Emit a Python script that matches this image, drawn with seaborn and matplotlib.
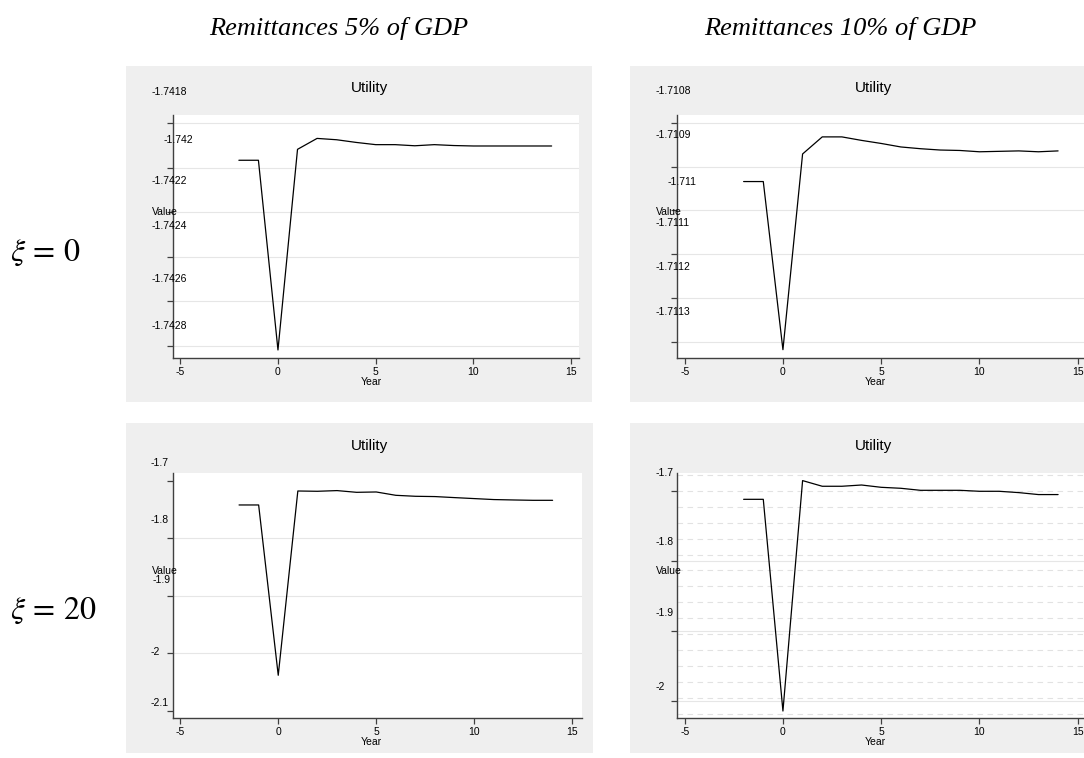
import matplotlib
matplotlib.use("Agg")
import matplotlib.pyplot as plt
from matplotlib.patches import Rectangle
from matplotlib.transforms import ScaledTranslation
import numpy as np
import pandas as pd
import seaborn as sns

# 数据：年份与四个情形下的效用值
years = list(range(-2, 15))
utility_r5_xi0 = [-1.741967, -1.741967, -1.742818, -1.741918, -1.741869, -1.741875,
                  -1.741887, -1.741897, -1.741897, -1.741902, -1.741897, -1.741901,
                  -1.741903, -1.741903, -1.741903, -1.741903, -1.741903]
utility_r10_xi0 = [-1.710934, -1.710934, -1.711318, -1.710871, -1.710832, -1.710832,
                   -1.710840, -1.710847, -1.710855, -1.710859, -1.710862, -1.710863,
                   -1.710866, -1.710865, -1.710864, -1.710866, -1.710864]
utility_r5_xi20 = [-1.7417, -1.7417, -2.0379, -1.7174, -1.7179, -1.7167, -1.7197,
                   -1.7191, -1.7249, -1.7266, -1.7271, -1.7289, -1.7306, -1.7323,
                   -1.7330, -1.7336, -1.7336]
utility_r10_xi20 = [-1.7115, -1.7115, -2.0148, -1.6847, -1.6928, -1.6928, -1.6910,
                    -1.6943, -1.6957, -1.6986, -1.6986, -1.6986, -1.7000, -1.7000,
                    -1.7019, -1.7047, -1.7047]

col_titles = ['Remittances 5% of GDP', 'Remittances 10% of GDP']
row_titles = [r'$\xi\,=\,0$', r'$\xi\,=\,20$']
xticks = [-5, 0, 5, 10, 15]
yticks_r5_xi0 = [-1.7418, -1.7420, -1.7422, -1.7424, -1.7426, -1.7428]
ylabels_r5_xi0 = ['-1.7418', '-1.742', '-1.7422', '-1.7424', '-1.7426', '-1.7428']
yticks_r10_xi0 = [-1.7108, -1.7109, -1.7110, -1.7111, -1.7112, -1.7113]
ylabels_r10_xi0 = ['-1.7108', '-1.7109', '-1.711', '-1.7111', '-1.7112', '-1.7113']
yticks_r5_xi20 = [-1.7, -1.8, -1.9, -2.0, -2.1]
ylabels_r5_xi20 = ['-1.7', '-1.8', '-1.9', '-2', '-2.1']
yticks_r10_xi20 = [-1.7, -1.8, -1.9, -2.0]
ylabels_r10_xi20 = ['-1.7', '-1.8', '-1.9', '-2']

sns.set_style('white')
plt.rcParams['font.family'] = ['Liberation Sans', 'DejaVu Sans']
plt.rcParams['mathtext.fontset'] = 'stix'
plt.rcParams['text.color'] = 'black'
plt.rcParams['xtick.labelcolor'] = 'black'

W, H = 1084, 758
fig = plt.figure(figsize=(W / 100, H / 100), dpi=100, facecolor='white')


def px_rect(x0, y0, x1, y1):
    # 像素框 -> figure 坐标
    return [x0 / W, 1 - y1 / H, (x1 - x0) / W, (y1 - y0) / H]


def shift(dx, dy):
    # 像素偏移（dy 向下为正）
    return ScaledTranslation(dx / 100, -dy / 100, fig.dpi_scale_trans)


panels = [
    dict(values=utility_r5_xi0, ticks=yticks_r5_xi0, labels=ylabels_r5_xi0,
         box=(126, 66, 592, 402), axes=(173, 115, 579, 358),
         xlim=(-5.37, 15.40), ylim=(-1.742854, -1.741764),
         ldy=[-31, -28, -31, -31, -22, -20], ldx=[-21, -9, -21, -21, -21, -21],
         grid=[0, 1, 2, 3, 4, 5], pattern=False),
    dict(values=utility_r10_xi0, ticks=yticks_r10_xi0, labels=ylabels_r10_xi0,
         box=(630, 66, 1084, 402), axes=(677, 115, 1086, 358),
         xlim=(-5.39, 15.42), ylim=(-1.711337, -1.710782),
         ldy=[-32, -32, -28, -31, -31, -30], ldx=[-21, -21, -9, -21, -21, -21],
         grid=[0, 1, 2, 3, 4, 5], pattern=False),
    dict(values=utility_r5_xi20, ticks=yticks_r5_xi20, labels=ylabels_r5_xi20,
         box=(126, 423, 593, 753), axes=(173, 473, 582, 718),
         xlim=(-5.37, 15.50), ylim=(-2.1122, -1.6861),
         ldy=[-18, -18, -16, -1, -8], ldx=[-22, -22, -20, -22, -22],
         grid=[1, 2, 3], pattern=False),
    dict(values=utility_r10_xi20, ticks=yticks_r10_xi20, labels=ylabels_r10_xi20,
         box=(630, 423, 1084, 753), axes=(677, 473, 1086, 718),
         xlim=(-5.39, 15.42), ylim=(-2.0248, -1.6738),
         ldy=[-18, -19, -18, -14], ldx=[-21, -21, -21, -21],
         grid=[1, 2, 3], pattern=True),
]

fs = 7.5
axis_col = '#404040'
for p in panels:
    x0, y0, x1, y1 = p['box']
    fig.add_artist(Rectangle((x0 / W, 1 - y1 / H), (x1 - x0) / W, (y1 - y0) / H,
                             transform=fig.transFigure, facecolor='#efefef',
                             edgecolor='none', zorder=0))
    ax = fig.add_axes(px_rect(*p['axes']))
    ax.set_facecolor('white')

    # 右下图背景中的浅色虚线纹理
    if p['pattern']:
        for f in np.linspace(0.015, 0.9935, 16):
            ax.plot([0, 1], [f, f], transform=ax.transAxes, color='#e2e2e2',
                    lw=0.8, dashes=(5, 4), zorder=0.4)
    for i in p['grid']:
        ax.axhline(p['ticks'][i], color='#e6e6e6', lw=0.8, zorder=0.5)

    df = pd.DataFrame({'Year': years, 'Value': p['values']})
    sns.lineplot(data=df, x='Year', y='Value', ax=ax, color='black', lw=0.9)

    ax.set_xlim(*p['xlim'])
    ax.set_ylim(*p['ylim'])
    ax.set_xticks(xticks)
    ax.set_xticklabels([str(t) for t in xticks])
    ax.set_yticks(p['ticks'])
    ax.set_xlabel('')
    ax.set_ylabel('')
    sns.despine(ax=ax)
    for side in ['left', 'bottom']:
        ax.spines[side].set_color(axis_col)
        ax.spines[side].set_linewidth(1.0)
    ax.tick_params(axis='y', left=True, labelleft=False, direction='out',
                   length=4.5, width=0.9, color=axis_col)
    ax.tick_params(axis='x', bottom=True, direction='out', length=4.5, width=0.9,
                   color=axis_col, labelsize=fs, pad=2, labelcolor='black')

    # Stata 风格错位的纵轴刻度标签
    for t, s, dx, dy in zip(p['ticks'], p['labels'], p['ldx'], p['ldy']):
        ax.text(0, t, s, transform=ax.get_yaxis_transform() + shift(dx, dy),
                ha='left', va='center', fontsize=fs)

    ax.text(0, 1, 'Utility', transform=ax.transAxes + shift(196, -27),
            ha='center', va='center', fontsize=11)
    ax.text(0, 0.6, 'Value', transform=ax.transAxes + shift(-21, 0),
            ha='left', va='center', fontsize=fs)
    ax.text(0, 0, 'Year', transform=ax.transAxes + shift(198, 24),
            ha='center', va='center', fontsize=fs)

for title, cx in zip(col_titles, [339, 840]):
    fig.text(cx / W, 1 - 35 / H, title, ha='center', va='baseline', fontsize=19,
             family=['Liberation Serif'], style='italic')
for title, by in zip(row_titles, [261, 619]):
    fig.text(10 / W, 1 - by / H, title, ha='left', va='baseline', fontsize=23)

fig.savefig('out.png', dpi=100)
